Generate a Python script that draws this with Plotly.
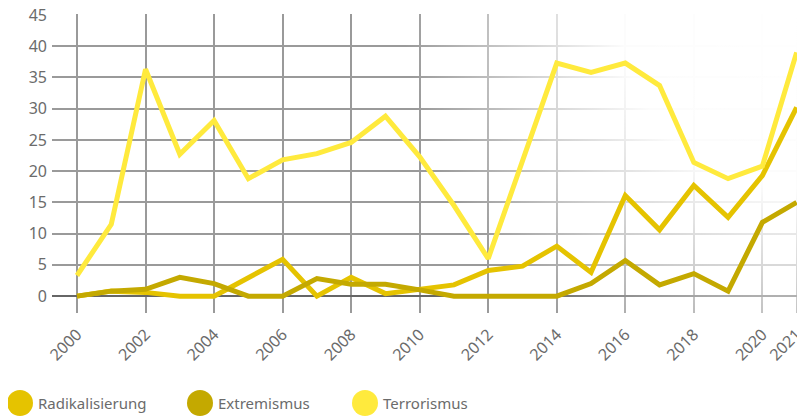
import plotly.graph_objects as go

years = list(range(2000, 2022))

radikalisierung = [0, 0.8, 0.6, 0, 0, 3, 5.9, 0, 3, 0.4, 1.2, 1.8, 4.1, 4.8,
                   8, 3.8, 16.1, 10.6, 17.7, 12.6, 19.3, 30.2]
extremismus = [0, 0.8, 1.1, 3, 2, 0, 0, 2.8, 1.9, 1.9, 1, 0, 0, 0,
               0, 2, 5.7, 1.8, 3.6, 0.8, 11.8, 15]
terrorismus = [3.3, 11.5, 36.3, 22.7, 28.1, 18.8, 21.8, 22.8, 24.6, 28.8, 22.3, 14.5,
               6, 21.5, 37.3, 35.8, 37.3, 33.7, 21.4, 18.8, 20.8, 39]

series = [
    ("Radikalisierung", radikalisierung, "#E5C300"),
    ("Extremismus", extremismus, "#C4A900"),
    ("Terrorismus", terrorismus, "#FFEA3D"),
]

x_ticks = list(range(2000, 2021, 2)) + [2021]
y_ticks = list(range(0, 46, 5))

x_range = [1999.27, 2021.04]
y_range = [-2.7, 45.15]

font = "Noto Sans, Open Sans, sans-serif"
grey = "#6b6b6b"

# the page body adds an 8px margin, so the figure is 8px smaller each way
W, H = 797, 408
ml, mr, mt, mb = 44, 7, 6, 103
plot_w, plot_h = W - ml - mr, H - mt - mb

fig = go.Figure()

# white radial fade over the grid towards the top right corner
rx, ry = 11.5, 62
fig.add_trace(go.Scatter(
    x=[x_range[1] - rx, x_range[1] + rx, x_range[1] + rx, x_range[1] - rx, x_range[1] - rx],
    y=[y_range[1] - ry, y_range[1] - ry, y_range[1] + ry, y_range[1] + ry, y_range[1] - ry],
    mode="lines", line=dict(width=0), fill="toself",
    fillgradient=dict(type="radial", colorscale=[
        [0, "rgba(255,255,255,1)"], [0.45, "rgba(255,255,255,0.97)"],
        [0.75, "rgba(255,255,255,0.45)"], [1, "rgba(255,255,255,0)"]]),
    hoverinfo="skip", showlegend=False,
))

for name, values, color in series:
    fig.add_trace(go.Scatter(
        x=years, y=values, mode="lines", name=name,
        line=dict(color=color, width=5), showlegend=False,
    ))

# legend: circles and labels (positions in page pixels)
legend_x = [20, 200, 365]
legend_y = (305 - 395) / plot_h
for (name, values, color), lx in zip(series, legend_x):
    fig.add_shape(type="circle", xref="paper", yref="paper",
                  xsizemode="pixel", ysizemode="pixel",
                  xanchor=(lx - 8 - ml) / plot_w, yanchor=legend_y,
                  x0=-13, x1=13, y0=-13, y1=13,
                  fillcolor=color, line=dict(width=0))
    fig.add_annotation(text=name, xref="paper", yref="paper",
                       x=(lx + 16 - 8 - ml) / plot_w, y=legend_y,
                       xanchor="left", yanchor="middle",
                       showarrow=False, font=dict(family=font, size=15, color=grey))

fig.update_layout(
    width=W, height=H,
    margin=dict(l=ml, r=mr, t=mt, b=mb),
    paper_bgcolor="white", plot_bgcolor="white",
    showlegend=False,
    font=dict(family=font, size=16, color=grey),
    xaxis=dict(range=x_range, tickvals=x_ticks, tickangle=-45, automargin=False,
               ticklabeloverflow="allow", ticklabelstandoff=8,
               showgrid=True, gridcolor="#9a9a9a", gridwidth=1.5,
               zeroline=False, showline=False, ticks=""),
    yaxis=dict(range=y_range, tickvals=y_ticks, automargin=False,
               ticklabeloverflow="allow",
               showgrid=True, gridcolor="#9a9a9a", gridwidth=1.5,
               zeroline=True, zerolinecolor="#666666", zerolinewidth=2,
               showline=False, ticks="", ticklabelstandoff=4),
)

fig.write_html("out.html")
